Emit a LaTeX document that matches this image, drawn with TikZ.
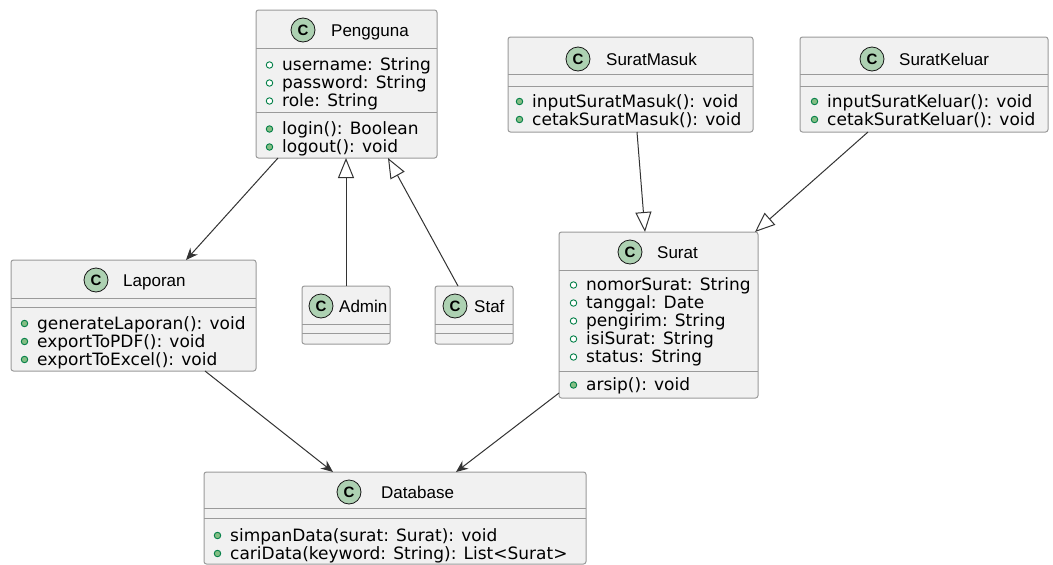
\documentclass[tikz,border=0pt]{standalone}
\usepackage{fontspec}
\setmainfont{DejaVu Sans}
\newfontfamily\headfont{Liberation Sans}
\usetikzlibrary{arrows.meta,fit}

\definecolor{boxfill}{HTML}{F1F1F1}
\definecolor{boxline}{HTML}{9A9A9A}
\definecolor{iconfill}{HTML}{ADD1B2}
\definecolor{iconline}{HTML}{181818}
\definecolor{markline}{HTML}{038048}
\definecolor{markfill}{HTML}{84BE84}
\definecolor{arrowline}{HTML}{333333}

\tikzset{
    classbox/.style={draw=boxline, fill=boxfill, line width=1pt, rounded corners=2.5pt, inner sep=0pt, outer sep=0pt},
    sepline/.style={draw=boxline, line width=1pt},
    classicon/.style={circle, draw=iconline, fill=iconfill, line width=0.8pt, minimum size=24pt, inner sep=0pt, font=\headfont\bfseries\fontsize{15}{15}\selectfont},
    classname/.style={anchor=base west, inner sep=0pt, font=\headfont\fontsize{17}{20}\selectfont},
    member/.style={anchor=base west, inner sep=0pt, font=\fontsize{17}{20}\selectfont},
    fieldmark/.style={circle, draw=markline, fill=white, line width=0.9pt, minimum size=6.5pt, inner sep=0pt},
    methodmark/.style={circle, draw=markline, fill=markfill, line width=0.9pt, minimum size=6.5pt, inner sep=0pt},
    uses/.style={draw=arrowline, line width=1pt, -{Stealth[length=12pt, width=10pt, inset=4pt]}},
    extends/.style={draw=arrowline, line width=1pt, -{Triangle[open, length=20pt, width=16pt]}}
}

% one member line: name, text x, baseline, text
\newcommand{\fieldrow}[4]{%
    \node[fieldmark] (#1-dot) at ({#2-12.5},{#3-5.5}) {};
    \node[member] (#1) at ({#2},{#3}) {#4};
}
\newcommand{\methodrow}[4]{%
    \node[methodmark] (#1-dot) at ({#2-12.5},{#3-5.5}) {};
    \node[member] (#1) at ({#2},{#3}) {#4};
}

\begin{document}
\begin{tikzpicture}[x=1pt, y=-1pt]
    \useasboundingbox[fill=white] (0,0) rectangle (1053,565);

    % --- Pengguna ---
    \node[classbox, fit={(256,10) (437,158)}] (pengguna) {};
    \draw[sepline] (256,48) -- (437,48); \draw[sepline] (256,112) -- (437,112);
    \node[classicon] (pengguna-c) at (303,30) {C};
    \node[classname] (pengguna-t) at (331,36) {Pengguna};
    \foreach \txt [count=\i] in {{username: String}, {password: String}, {role: String}}
        {\fieldrow{pengguna-f\i}{282}{70.5+18*(\i-1)}{\txt}}
    \foreach \txt [count=\i] in {{login(): Boolean}, {logout(): void}}
        {\methodrow{pengguna-m\i}{282}{134.5+18*(\i-1)}{\txt}}

    % --- SuratMasuk ---
    \node[classbox, fit={(508,37) (753,132)}] (masuk) {};
    \draw[sepline] (508,74) -- (753,74); \draw[sepline] (508,86) -- (753,86);
    \node[classicon] (masuk-c) at (578,59) {C};
    \node[classname] (masuk-t) at (606,65) {SuratMasuk};
    \foreach \txt [count=\i] in {{inputSuratMasuk(): void}, {cetakSuratMasuk(): void}}
        {\methodrow{masuk-m\i}{532}{107+18*(\i-1)}{\txt}}

    % --- SuratKeluar ---
    \node[classbox, fit={(800,37) (1048,132)}] (keluar) {};
    \draw[sepline] (800,74) -- (1048,74); \draw[sepline] (800,86) -- (1048,86);
    \node[classicon] (keluar-c) at (872,59) {C};
    \node[classname] (keluar-t) at (899,65) {SuratKeluar};
    \foreach \txt [count=\i] in {{inputSuratKeluar(): void}, {cetakSuratKeluar(): void}}
        {\methodrow{keluar-m\i}{827}{107+18*(\i-1)}{\txt}}

    % --- Laporan ---
    \node[classbox, fit={(11,260) (256,371)}] (laporan) {};
    \draw[sepline] (11,298) -- (256,298); \draw[sepline] (11,307) -- (256,307);
    \node[classicon] (laporan-c) at (96,280) {C};
    \node[classname] (laporan-t) at (123,286) {Laporan};
    \foreach \txt [count=\i] in {{generateLaporan(): void}, {exportToPDF(): void}, {exportToExcel(): void}}
        {\methodrow{laporan-m\i}{37}{329+18*(\i-1)}{\txt}}

    % --- Admin / Staf ---
    \node[classbox, fit={(302,286) (390,344)}] (admin) {};
    \draw[sepline] (302,324) -- (390,324); \draw[sepline] (302,333) -- (390,333);
    \node[classicon] (admin-c) at (321,306) {C};
    \node[classname] (admin-t) at (339,312) {Admin};
    \node[classbox, fit={(435,286) (513,344)}] (staf) {};
    \draw[sepline] (435,324) -- (513,324); \draw[sepline] (435,333) -- (513,333);
    \node[classicon] (staf-c) at (455,306) {C};
    \node[classname] (staf-t) at (474,312) {Staf};

    % --- Surat ---
    \node[classbox, fit={(559,232) (758,398)}] (surat) {};
    \draw[sepline] (559,270) -- (758,270); \draw[sepline] (559,371) -- (758,371);
    \node[classicon] (surat-c) at (630,252) {C};
    \node[classname] (surat-t) at (657,258) {Surat};
    \foreach \txt [count=\i] in {{nomorSurat: String}, {tanggal: Date}, {pengirim: String}, {isiSurat: String}, {status: String}}
        {\fieldrow{surat-f\i}{586}{290.5+18*(\i-1)}{\txt}}
    \methodrow{surat-m1}{586}{390.5}{arsip(): void}

    % --- Database ---
    \node[classbox, fit={(204,472) (586,564)}] (database) {};
    \draw[sepline] (204,508) -- (586,508); \draw[sepline] (204,518) -- (586,518);
    \node[classicon] (database-c) at (349,492) {C};
    \node[classname] (database-t) at (381,498) {Database};
    \foreach \txt [count=\i] in {{simpanData(surat: Surat): void}, {cariData(keyword: String): List<Surat>}}
        {\methodrow{database-m\i}{230}{541+18*(\i-1)}{\txt}}

    % --- relations ---
    \draw[uses] ([xshift=22pt]pengguna.south west) -- ([xshift=175pt]laporan.north west);
    \draw[extends] (admin.north) -- (admin.north |- pengguna.south);
    \draw[extends] ([xshift=23pt]staf.north west) -- ([xshift=132pt]pengguna.south west);
    \draw[extends] ([xshift=129pt]masuk.south west) -- ([xshift=86pt]surat.north west);
    \draw[extends] ([xshift=68pt]keluar.south west) -- ([xshift=-3pt]surat.north east);
    \draw[uses] ([xshift=194pt]laporan.south west) -- ([xshift=129pt]database.north west);
    \draw[uses] ([yshift=5pt]surat.south west) -- ([xshift=252pt]database.north west);
\end{tikzpicture}
\end{document}
